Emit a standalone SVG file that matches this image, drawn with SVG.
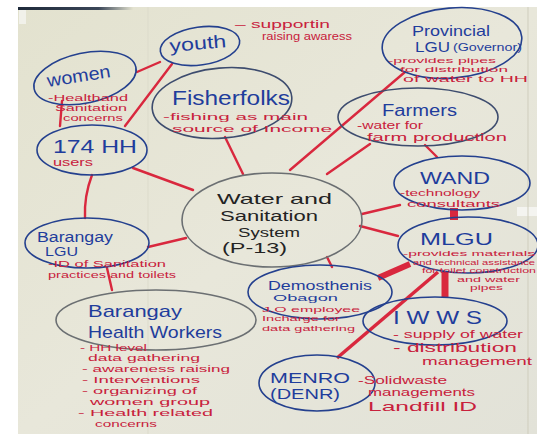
<svg xmlns="http://www.w3.org/2000/svg" width="537" height="434" viewBox="0 0 537 434">
<defs>
<linearGradient id="paper" x1="0" y1="0" x2="1" y2="1">
<stop offset="0" stop-color="#e3e2cf"/>
<stop offset="0.5" stop-color="#e8e7da"/>
<stop offset="1" stop-color="#e2e2d8"/>
</linearGradient>
<linearGradient id="bar" x1="0" y1="0" x2="1" y2="0">
<stop offset="0" stop-color="#1e2a3a"/>
<stop offset="0.7" stop-color="#3a4658"/>
<stop offset="1" stop-color="#e3e2cf"/>
</linearGradient>
<style>
.blue{fill:none;stroke:#24408e;stroke-width:1.6}
.grey{fill:none;stroke:#6b6f72;stroke-width:1.6}
.slate{fill:none;stroke:#3d4c6e;stroke-width:1.6}
.nt{font-family:"Liberation Sans",Arial,sans-serif;fill:#1f3d9c}
.ct{font-family:"Liberation Sans",Arial,sans-serif;fill:#232323}
.rt{font-family:"Liberation Sans",Arial,sans-serif;fill:#c8213c}
.c{stroke:#d9283e;stroke-width:2.4;fill:none;stroke-linecap:round}
.ck{stroke:#d9283e;fill:none}
</style>
</defs>
<rect width="537" height="434" fill="#ffffff"/>
<rect x="18" y="7" width="519" height="427" fill="url(#paper)"/>
<rect x="18" y="7" width="115" height="3" fill="url(#bar)"/>
<rect x="19" y="10" width="7" height="14" fill="#f1f1ea"/>
<rect x="517" y="207" width="20" height="9" fill="#f4f4f0"/>
<line x1="528" y1="7" x2="528" y2="434" stroke="#cfcdbd" stroke-width="1"/>
<line x1="148" y1="7" x2="148" y2="434" stroke="#dcdbcb" stroke-width="1"/>

<g id="connectors">
<line class="c" x1="137" y1="72" x2="160" y2="62"/>
<line class="c" x1="172" y1="64" x2="125" y2="126"/>
<line class="c" x1="62" y1="101" x2="60" y2="126"/>
<line class="c" x1="225" y1="137" x2="243" y2="174"/>
<line class="c" x1="405" y1="72" x2="290" y2="170"/>
<line class="c" x1="370" y1="144" x2="327" y2="174"/>
<line class="c" x1="425" y1="145" x2="437" y2="157"/>
<line class="c" x1="133" y1="168" x2="193" y2="190"/>
<path class="c" d="M92 175 Q84 196 85 218"/>
<line class="c" x1="148" y1="247" x2="186" y2="238" stroke-width="3"/>
<line class="c" x1="107" y1="268" x2="112" y2="290"/>
<line class="c" x1="362" y1="214" x2="400" y2="205"/>
<line class="c" x1="360" y1="226" x2="398" y2="236"/>
<line class="c" x1="327" y1="257" x2="332" y2="267"/>
<line class="ck" x1="454" y1="208" x2="454" y2="220" stroke-width="8"/>
<line class="ck" x1="378" y1="278" x2="410" y2="264" stroke-width="6"/>
<line class="ck" x1="445" y1="272" x2="445" y2="298" stroke-width="7"/>
<line class="ck" x1="337" y1="358" x2="438" y2="272" stroke-width="3.5"/>
</g>

<g id="youth">
<ellipse class="blue" cx="200" cy="46" rx="40" ry="19" transform="rotate(-8 200 46)"/>
<text class="nt" x="170" y="52" font-size="18" textLength="57" lengthAdjust="spacingAndGlyphs" transform="rotate(-5 170 52)">youth</text>
<text class="rt" x="235" y="28" font-size="11" textLength="95" lengthAdjust="spacingAndGlyphs">– supportin</text>
<text class="rt" x="262" y="40" font-size="11" textLength="90" lengthAdjust="spacingAndGlyphs">raising awaress</text>
</g>

<g id="women">
<ellipse class="blue" cx="85" cy="78" rx="52" ry="25" transform="rotate(-12 85 78)"/>
<text class="nt" x="48" y="87" font-size="18" textLength="64" lengthAdjust="spacingAndGlyphs" transform="rotate(-9 48 87)">women</text>
<text class="rt" x="48" y="101" font-size="9" textLength="80" lengthAdjust="spacingAndGlyphs">-Healthand</text>
<text class="rt" x="55" y="111" font-size="9" textLength="72" lengthAdjust="spacingAndGlyphs">Sanitation</text>
<text class="rt" x="63" y="121" font-size="9" textLength="60" lengthAdjust="spacingAndGlyphs">concerns</text>
</g>

<g id="fisherfolks">
<ellipse class="slate" cx="222" cy="103" rx="70" ry="35" transform="rotate(-5 222 103)"/>
<text class="nt" x="172" y="105" font-size="20" textLength="118" lengthAdjust="spacingAndGlyphs">Fisherfolks</text>
<text class="rt" x="163" y="120" font-size="9.5" textLength="145" lengthAdjust="spacingAndGlyphs">-fishing as main</text>
<text class="rt" x="172" y="131.5" font-size="9.5" textLength="160" lengthAdjust="spacingAndGlyphs">source of Income</text>
</g>

<g id="provincial-lgu">
<ellipse class="blue" cx="452" cy="43" rx="70" ry="35" transform="rotate(-5 452 43)"/>
<text class="nt" x="412" y="36" font-size="15" textLength="78" lengthAdjust="spacingAndGlyphs">Provincial</text>
<text class="nt" x="415" y="52" font-size="14" textLength="35" lengthAdjust="spacingAndGlyphs">LGU</text>
<text class="nt" x="453" y="51" font-size="10" textLength="69" lengthAdjust="spacingAndGlyphs">(Governor)</text>
<text class="rt" x="388" y="63" font-size="8" textLength="108" lengthAdjust="spacingAndGlyphs">-provides pipes</text>
<text class="rt" x="400" y="72" font-size="8" textLength="108" lengthAdjust="spacingAndGlyphs">for distribution</text>
<text class="rt" x="403" y="81.5" font-size="8.5" textLength="125" lengthAdjust="spacingAndGlyphs">of water to HH</text>
</g>

<g id="farmers">
<ellipse class="slate" cx="418" cy="117" rx="80" ry="29"/>
<text class="nt" x="382" y="116" font-size="16" textLength="75" lengthAdjust="spacingAndGlyphs">Farmers</text>
<text class="rt" x="357" y="129" font-size="10" textLength="66" lengthAdjust="spacingAndGlyphs">-water for</text>
<text class="rt" x="367" y="140.5" font-size="10" textLength="140" lengthAdjust="spacingAndGlyphs">farm production</text>
</g>

<g id="hh174">
<ellipse class="blue" cx="92" cy="150" rx="55" ry="25"/>
<text class="nt" x="53" y="153" font-size="18" textLength="84" lengthAdjust="spacingAndGlyphs">174 HH</text>
<text class="rt" x="53" y="166" font-size="10" textLength="40" lengthAdjust="spacingAndGlyphs">users</text>
</g>

<g id="water-sanitation">
<ellipse class="grey" cx="272" cy="220" rx="90" ry="47"/>
<text class="ct" x="217" y="204" font-size="15" textLength="115" lengthAdjust="spacingAndGlyphs">Water and</text>
<text class="ct" x="220" y="221" font-size="14" textLength="98" lengthAdjust="spacingAndGlyphs">Sanitation</text>
<text class="ct" x="238" y="237" font-size="13" textLength="62" lengthAdjust="spacingAndGlyphs">System</text>
<text class="ct" x="222" y="253" font-size="14" textLength="65" lengthAdjust="spacingAndGlyphs">(P-13)</text>
</g>

<g id="wand">
<ellipse class="blue" cx="462" cy="183" rx="68" ry="27"/>
<text class="nt" x="420" y="184" font-size="16" textLength="70" lengthAdjust="spacingAndGlyphs">WAND</text>
<text class="rt" x="400" y="196" font-size="9" textLength="80" lengthAdjust="spacingAndGlyphs">-technology</text>
<text class="rt" x="407" y="206.5" font-size="9" textLength="93" lengthAdjust="spacingAndGlyphs">consultants</text>
</g>

<g id="mlgu">
<ellipse class="blue" cx="468" cy="245" rx="70" ry="28"/>
<text class="nt" x="420" y="245" font-size="16" textLength="73" lengthAdjust="spacingAndGlyphs">MLGU</text>
<text class="rt" x="403" y="256" font-size="7.5" textLength="132" lengthAdjust="spacingAndGlyphs">-provides materials</text>
<text class="rt" x="413" y="264.5" font-size="7.5" textLength="122" lengthAdjust="spacingAndGlyphs">and technical assistance</text>
<text class="rt" x="422" y="273" font-size="7.5" textLength="114" lengthAdjust="spacingAndGlyphs">for toilet construction</text>
<text class="rt" x="457" y="281.5" font-size="7.5" textLength="63" lengthAdjust="spacingAndGlyphs">and water</text>
<text class="rt" x="470" y="290" font-size="7.5" textLength="33" lengthAdjust="spacingAndGlyphs">pipes</text>
</g>

<g id="barangay-lgu">
<ellipse class="blue" cx="87" cy="243" rx="62" ry="25"/>
<text class="nt" x="37" y="242" font-size="14" textLength="76" lengthAdjust="spacingAndGlyphs">Barangay</text>
<text class="nt" x="45" y="256" font-size="12" textLength="33" lengthAdjust="spacingAndGlyphs">LGU</text>
<text class="rt" x="48" y="267" font-size="9" textLength="118" lengthAdjust="spacingAndGlyphs">-ID of Sanitation</text>
<text class="rt" x="48" y="277.5" font-size="9" textLength="128" lengthAdjust="spacingAndGlyphs">practices and toilets</text>
</g>

<g id="demosthenis">
<ellipse class="blue" cx="320" cy="292" rx="72" ry="27"/>
<text class="nt" x="268" y="290" font-size="13" textLength="104" lengthAdjust="spacingAndGlyphs">Demosthenis</text>
<text class="nt" x="273" y="301" font-size="9" textLength="65" lengthAdjust="spacingAndGlyphs">Obagon</text>
<text class="rt" x="262" y="311.5" font-size="8" textLength="98" lengthAdjust="spacingAndGlyphs">J.O employee</text>
<text class="rt" x="262" y="321" font-size="8" textLength="78" lengthAdjust="spacingAndGlyphs">Incharge for</text>
<text class="rt" x="262" y="330.5" font-size="8" textLength="93" lengthAdjust="spacingAndGlyphs">data gathering</text>
</g>

<g id="iwws">
<ellipse class="blue" cx="435" cy="321" rx="72" ry="24"/>
<text class="nt" x="393" y="324" font-size="18" textLength="89" lengthAdjust="spacingAndGlyphs">I W W S</text>
<text class="rt" x="393" y="338" font-size="10" textLength="130" lengthAdjust="spacingAndGlyphs">- supply of water</text>
<text class="rt" x="393" y="351.5" font-size="12" textLength="124" lengthAdjust="spacingAndGlyphs">- distribution</text>
<text class="rt" x="422" y="364.5" font-size="11" textLength="110" lengthAdjust="spacingAndGlyphs">management</text>
</g>

<g id="barangay-health-workers">
<ellipse class="grey" cx="156" cy="320" rx="100" ry="30"/>
<text class="nt" x="88" y="317" font-size="17" textLength="94" lengthAdjust="spacingAndGlyphs">Barangay</text>
<text class="nt" x="88" y="338" font-size="17" textLength="134" lengthAdjust="spacingAndGlyphs">Health Workers</text>
<text class="rt" x="80" y="350.5" font-size="9.3" textLength="67" lengthAdjust="spacingAndGlyphs">- HH level</text>
<text class="rt" x="88" y="361" font-size="9.3" textLength="112" lengthAdjust="spacingAndGlyphs">data gathering</text>
<text class="rt" x="82" y="372" font-size="9.3" textLength="148" lengthAdjust="spacingAndGlyphs">- awareness raising</text>
<text class="rt" x="82" y="383" font-size="9.3" textLength="118" lengthAdjust="spacingAndGlyphs">- Interventions</text>
<text class="rt" x="82" y="394" font-size="9.3" textLength="115" lengthAdjust="spacingAndGlyphs">- organizing of</text>
<text class="rt" x="90" y="405" font-size="9.3" textLength="120" lengthAdjust="spacingAndGlyphs">women group</text>
<text class="rt" x="78" y="416" font-size="9.3" textLength="135" lengthAdjust="spacingAndGlyphs">- Health related</text>
<text class="rt" x="95" y="427" font-size="9.3" textLength="62" lengthAdjust="spacingAndGlyphs">concerns</text>
</g>

<g id="menro">
<ellipse class="blue" cx="317" cy="383" rx="58" ry="28"/>
<text class="nt" x="270" y="383" font-size="15" textLength="80" lengthAdjust="spacingAndGlyphs">MENRO</text>
<text class="nt" x="270" y="399" font-size="14" textLength="70" lengthAdjust="spacingAndGlyphs">(DENR)</text>
<text class="rt" x="358" y="384" font-size="10" textLength="89" lengthAdjust="spacingAndGlyphs">-Solidwaste</text>
<text class="rt" x="368" y="396" font-size="10" textLength="107" lengthAdjust="spacingAndGlyphs">managements</text>
<text class="rt" x="368" y="410.5" font-size="13" textLength="109" lengthAdjust="spacingAndGlyphs">Landfill ID</text>
</g>
</svg>
